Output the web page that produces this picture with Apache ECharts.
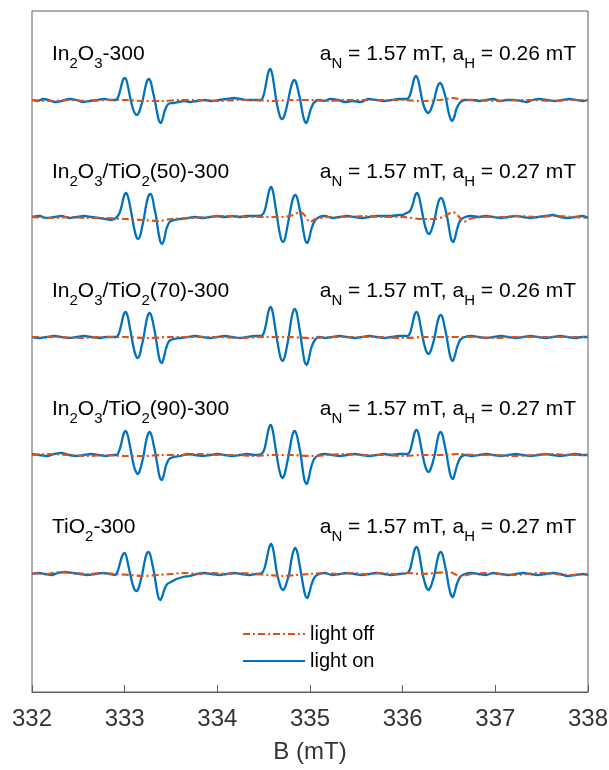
<!DOCTYPE html>
<html>
<head>
<meta charset="utf-8">
<script src="https://cdn.jsdelivr.net/npm/echarts@6/dist/echarts.min.js"></script>
<style>
  html, body { margin: 0; padding: 0; background: #fff; }
  #chart { width: 609px; height: 770px; }
</style>
</head>
<body>
<div id="chart"></div>
<script>
// EPR spectra (DMPO spin adducts) of the five catalysts, light off vs light on.
// Each spectrum is a list of [B (mT), signal (a.u.)] pairs relative to its own baseline.

const fieldTicks = [332, 333, 334, 335, 336, 337, 338];

const sampleLabels = [
  '{n|In}{s|2}{n|O}{s|3}{n|-300}',
  '{n|In}{s|2}{n|O}{s|3}{n|/TiO}{s|2}{n|(50)-300}',
  '{n|In}{s|2}{n|O}{s|3}{n|/TiO}{s|2}{n|(70)-300}',
  '{n|In}{s|2}{n|O}{s|3}{n|/TiO}{s|2}{n|(90)-300}',
  '{n|TiO}{s|2}{n|-300}'
];

const couplingLabels = [
  '{n|a}{s|N}{n| = 1.57 mT, a}{s|H}{n| = 0.26 mT}',
  '{n|a}{s|N}{n| = 1.57 mT, a}{s|H}{n| = 0.27 mT}',
  '{n|a}{s|N}{n| = 1.57 mT, a}{s|H}{n| = 0.26 mT}',
  '{n|a}{s|N}{n| = 1.57 mT, a}{s|H}{n| = 0.27 mT}',
  '{n|a}{s|N}{n| = 1.57 mT, a}{s|H}{n| = 0.27 mT}'
];

// vertical offset of each spectrum in the stack (top to bottom)
const stackOffsets = [592, 475, 355, 237, 118];

// ---- In2O3-300 ----
const onIn2O3 = [
  [332.00, 0], [332.06, -1], [332.12, 1], [332.18, 0], [332.25, -2], [332.32, -1], [332.40, 1],
  [332.48, 0], [332.55, -2], [332.62, -1], [332.70, 0], [332.78, 1], [332.85, 0],
  [332.90, 0], [332.93, 3], [332.955, 11], [332.978, 19], [333.00, 22], [333.022, 19], [333.043, 10],
  [333.065, 0], [333.087, -8], [333.108, -13], [333.13, -15], [333.152, -13], [333.173, -7], [333.195, 0],
  [333.217, 10], [333.238, 18], [333.26, 21], [333.282, 18], [333.303, 9], [333.325, 0], [333.347, -11],
  [333.368, -20], [333.39, -23], [333.412, -18], [333.435, -10], [333.47, -4], [333.52, -3], [333.58, -2],
  [333.64, -1], [333.70, -2], [333.78, -1], [333.86, 0], [333.94, -1], [334.02, 0], [334.10, 1],
  [334.18, 2], [334.25, 1], [334.32, 0], [334.40, 0], [334.47, 0],
  [334.50, 5], [334.525, 16], [334.548, 27], [334.57, 31], [334.592, 26], [334.613, 14], [334.635, 0],
  [334.657, -10], [334.678, -17], [334.70, -19], [334.722, -16], [334.743, -9], [334.765, 0], [334.787, 10],
  [334.808, 17], [334.83, 20], [334.852, 17], [334.873, 9], [334.895, 0], [334.917, -12], [334.938, -20],
  [334.96, -23], [334.982, -18], [335.005, -10], [335.04, -3], [335.09, 0],
  [335.15, -1], [335.22, 1], [335.30, 0], [335.38, -2], [335.46, -1], [335.55, -2], [335.63, 1],
  [335.72, 0], [335.80, -1], [335.88, 0], [335.96, 1], [336.045, 1],
  [336.075, 4], [336.10, 12], [336.123, 21], [336.145, 24], [336.167, 20], [336.188, 11], [336.21, 0],
  [336.232, -7], [336.253, -11], [336.275, -13], [336.297, -11], [336.318, -6], [336.34, 0], [336.362, 9],
  [336.383, 15], [336.405, 17], [336.427, 14], [336.448, 8], [336.47, 0], [336.492, -11], [336.513, -18],
  [336.535, -21], [336.557, -17], [336.58, -9], [336.615, -3], [336.665, 0],
  [336.75, 0], [336.83, -1], [336.90, 0], [336.98, 1], [337.05, -1], [337.12, 0], [337.20, 0],
  [337.28, -1], [337.34, -2], [337.40, 0], [337.48, 1], [337.56, 0], [337.64, -1], [337.72, 0],
  [337.80, 1], [337.88, 0], [337.95, -1], [338.00, 0]
];
const offIn2O3 = [
  [332.00, 0], [332.20, -1], [332.40, 0], [332.60, -1], [332.80, 0], [333.00, 0], [333.20, -1],
  [333.40, -1], [333.60, 0], [333.80, 0], [334.00, -1], [334.20, 0], [334.40, 0], [334.60, -1],
  [334.80, 0], [335.00, 0], [335.20, -1], [335.40, 0], [335.60, 0], [335.80, 0], [336.00, 0],
  [336.20, -1], [336.40, 0], [336.55, 2], [336.65, 0], [336.80, 0], [337.00, -1], [337.20, 0],
  [337.40, 0], [337.60, -1], [337.80, 0], [338.00, 0]
];

// ---- In2O3/TiO2(50)-300 ----
const onTi50 = [
  [332.00, 0], [332.08, 1], [332.16, -1], [332.24, 0], [332.32, 1], [332.40, -1], [332.48, 0],
  [332.56, 1], [332.64, 0], [332.72, -1], [332.80, -2], [332.85, -3], [332.89, -2],
  [332.915, 0], [332.945, 4], [332.97, 12], [332.993, 21], [333.015, 24], [333.037, 20], [333.058, 11],
  [333.08, 0], [333.102, -11], [333.123, -19], [333.145, -22], [333.167, -19], [333.188, -10], [333.21, 0],
  [333.232, 12], [333.253, 20], [333.275, 23], [333.297, 20], [333.318, 10], [333.34, 0], [333.362, -14],
  [333.383, -24], [333.405, -27], [333.427, -22], [333.45, -12], [333.485, -5], [333.535, -3], [333.60, -2],
  [333.68, -1], [333.76, 0], [333.84, -1], [333.92, 0], [334.00, 1], [334.08, 0], [334.16, 1],
  [334.24, 0], [334.32, 1], [334.40, 1], [334.48, 2],
  [334.51, 6], [334.535, 16], [334.558, 26], [334.58, 30], [334.602, 25], [334.623, 13], [334.645, 0],
  [334.667, -13], [334.688, -22], [334.71, -25], [334.732, -21], [334.753, -11], [334.775, 0], [334.797, 11],
  [334.818, 19], [334.84, 22], [334.862, 19], [334.883, 10], [334.905, 0], [334.927, -13], [334.948, -23],
  [334.97, -26], [334.992, -21], [335.015, -12], [335.05, -4], [335.10, 0],
  [335.16, 1], [335.24, -1], [335.32, 0], [335.40, 1], [335.48, 0], [335.56, -1], [335.64, 0],
  [335.72, 1], [335.80, 1], [335.88, 1], [335.96, 2], [336.00, 2], [336.04, 4],
  [336.08, 6], [336.11, 13], [336.133, 21], [336.155, 24], [336.177, 20], [336.198, 11], [336.22, 0],
  [336.242, -9], [336.263, -15], [336.285, -17], [336.307, -14], [336.328, -8], [336.35, 0], [336.372, 10],
  [336.393, 17], [336.415, 19], [336.437, 16], [336.458, 9], [336.48, 0], [336.502, -12], [336.523, -22],
  [336.545, -25], [336.567, -20], [336.59, -11], [336.625, -3], [336.675, 0],
  [336.74, 1], [336.82, 0], [336.90, 1], [336.98, 0], [337.06, -1], [337.14, 0], [337.22, 1],
  [337.30, 0], [337.38, -1], [337.46, 0], [337.54, 1], [337.62, 2], [337.70, 0], [337.78, -1],
  [337.86, 0], [337.94, 1], [338.00, -1]
];
const offTi50 = [
  [332.00, 0], [332.20, -1], [332.40, 0], [332.60, -1], [332.80, -1], [333.00, -2], [333.20, -3],
  [333.36, -4], [333.50, -2], [333.70, -1], [333.90, 0], [334.10, 1], [334.30, 0], [334.50, 0],
  [334.70, 0], [334.82, 2], [334.89, 5], [334.94, 2], [335.00, -5], [335.06, -2], [335.20, 0],
  [335.40, 0], [335.60, 1], [335.80, 0], [336.00, 0], [336.20, -2], [336.35, -2], [336.46, 1],
  [336.54, 5], [336.60, 1], [336.66, -5], [336.72, -2], [336.85, 0], [337.05, 0], [337.25, 1],
  [337.45, 0], [337.65, 1], [337.85, 0], [338.00, -1]
];

// ---- In2O3/TiO2(70)-300 ----
const onTi70 = [
  [332.00, 0], [332.08, -1], [332.16, 0], [332.24, 1], [332.32, 0], [332.40, -1], [332.48, 0],
  [332.56, 1], [332.64, 0], [332.72, -1], [332.80, 0], [332.87, 0],
  [332.91, 0], [332.94, 4], [332.965, 13], [332.988, 22], [333.01, 25], [333.032, 21], [333.053, 11],
  [333.075, 0], [333.097, -11], [333.118, -18], [333.14, -21], [333.162, -18], [333.183, -9], [333.205, 0],
  [333.227, 12], [333.248, 21], [333.27, 24], [333.292, 20], [333.313, 11], [333.335, 0], [333.357, -13],
  [333.378, -23], [333.40, -26], [333.422, -21], [333.445, -12], [333.48, -4], [333.53, -2], [333.60, -1],
  [333.68, 0], [333.76, 1], [333.84, 0], [333.92, -1], [334.00, 0], [334.08, 1], [334.16, 0],
  [334.24, -1], [334.32, 0], [334.40, 1], [334.475, 1],
  [334.505, 5], [334.53, 15], [334.553, 26], [334.575, 30], [334.597, 25], [334.618, 13], [334.64, 0],
  [334.662, -12], [334.683, -21], [334.705, -24], [334.727, -20], [334.748, -11], [334.77, 0], [334.792, 14],
  [334.813, 24], [334.835, 28], [334.857, 24], [334.878, 13], [334.90, 0], [334.922, -14], [334.943, -25],
  [334.965, -28], [334.987, -22], [335.01, -12], [335.045, -4], [335.095, 0],
  [335.16, -1], [335.24, 0], [335.32, 1], [335.40, 0], [335.48, -1], [335.56, 0], [335.64, 1],
  [335.72, 0], [335.80, -1], [335.88, 0], [335.96, 1], [336.05, 1],
  [336.08, 4], [336.105, 13], [336.128, 22], [336.15, 25], [336.172, 21], [336.193, 11], [336.215, 0],
  [336.237, -9], [336.258, -15], [336.28, -17], [336.302, -14], [336.323, -8], [336.345, 0], [336.367, 11],
  [336.388, 19], [336.41, 22], [336.432, 19], [336.453, 10], [336.475, 0], [336.497, -12], [336.518, -21],
  [336.54, -24], [336.562, -19], [336.585, -11], [336.62, -3], [336.67, 0],
  [336.74, 1], [336.82, 0], [336.90, -1], [336.98, 0], [337.06, 1], [337.14, 0], [337.22, -1],
  [337.30, 0], [337.38, 1], [337.46, 0], [337.54, -1], [337.62, 0], [337.70, 1], [337.78, 0],
  [337.86, -1], [337.94, 0], [338.00, 0]
];
const offTi70 = [
  [332.00, 0], [332.25, 0], [332.50, -1], [332.75, 0], [333.00, 0], [333.25, -1], [333.50, 0],
  [333.75, 0], [334.00, 0], [334.25, -1], [334.50, 0], [334.75, 0], [335.00, -1], [335.25, 0],
  [335.50, 0], [335.75, 0], [336.00, -1], [336.25, 0], [336.50, 0], [336.75, 0], [337.00, -1],
  [337.25, 0], [337.50, 0], [337.75, 0], [338.00, 0]
];

// ---- In2O3/TiO2(90)-300 ----
const onTi90 = [
  [332.00, 1], [332.08, 0], [332.16, -1], [332.24, 1], [332.32, 2], [332.40, 0], [332.48, -1],
  [332.56, 0], [332.64, 1], [332.72, 0], [332.80, -1], [332.87, 0],
  [332.91, 0], [332.94, 4], [332.965, 12], [332.988, 21], [333.01, 24], [333.032, 20], [333.053, 11],
  [333.075, 0], [333.097, -10], [333.118, -16], [333.14, -19], [333.162, -16], [333.183, -9], [333.205, 0],
  [333.227, 12], [333.248, 20], [333.27, 23], [333.292, 19], [333.313, 10], [333.335, 0], [333.357, -12],
  [333.378, -22], [333.40, -25], [333.422, -20], [333.445, -11], [333.48, -4], [333.53, -2], [333.60, -1],
  [333.68, 1], [333.76, 0], [333.84, -1], [333.92, 0], [334.00, 1], [334.08, 0], [334.16, -1],
  [334.24, 0], [334.32, 1], [334.40, 0], [334.475, 1],
  [334.505, 5], [334.53, 15], [334.553, 26], [334.575, 30], [334.597, 25], [334.618, 13], [334.64, 0],
  [334.662, -12], [334.683, -20], [334.705, -23], [334.727, -19], [334.748, -10], [334.77, 0], [334.792, 12],
  [334.813, 21], [334.835, 24], [334.857, 20], [334.878, 11], [334.90, 0], [334.922, -15], [334.943, -26],
  [334.965, -29], [334.987, -23], [335.01, -13], [335.045, -4], [335.095, 0],
  [335.16, 1], [335.24, 0], [335.32, -1], [335.40, 0], [335.48, 1], [335.56, 0], [335.64, -1],
  [335.72, 0], [335.80, 1], [335.88, 0], [335.96, 1], [336.05, 1],
  [336.08, 4], [336.105, 13], [336.128, 22], [336.15, 25], [336.172, 21], [336.193, 11], [336.215, 0],
  [336.237, -9], [336.258, -15], [336.28, -17], [336.302, -14], [336.323, -8], [336.345, 0], [336.367, 11],
  [336.388, 20], [336.41, 23], [336.432, 19], [336.453, 10], [336.475, 0], [336.497, -12], [336.518, -21],
  [336.54, -24], [336.562, -19], [336.585, -11], [336.62, -3], [336.67, 0],
  [336.74, -1], [336.82, 0], [336.90, 1], [336.98, 0], [337.06, -1], [337.14, 0], [337.22, 1],
  [337.30, 0], [337.38, -1], [337.46, 0], [337.54, 1], [337.62, 0], [337.70, -1], [337.78, 0],
  [337.86, 1], [337.94, 0], [338.00, 0]
];
const offTi90 = [
  [332.00, 0], [332.20, 1], [332.40, 0], [332.60, -1], [332.80, 0], [333.00, -1], [333.20, -1],
  [333.40, 0], [333.60, 0], [333.80, 1], [334.00, 0], [334.20, 0], [334.40, -1], [334.60, 0],
  [334.80, 0], [335.00, -1], [335.20, 0], [335.40, 1], [335.60, 0], [335.80, 0], [336.00, -1],
  [336.20, 0], [336.40, 0], [336.60, 1], [336.80, 0], [337.00, 0], [337.20, -1], [337.40, 0],
  [337.60, 1], [337.80, 0], [338.00, 0]
];

// ---- TiO2-300 ----
const onTiO2 = [
  [332.00, 0], [332.07, 1], [332.14, 0], [332.21, -1], [332.28, 1], [332.36, 2], [332.44, 1],
  [332.52, 0], [332.60, -1], [332.68, 0], [332.76, 1], [332.84, 0], [332.895, -1],
  [332.925, 3], [332.95, 11], [332.973, 18], [332.995, 21], [333.017, 18], [333.038, 9], [333.06, 0],
  [333.082, -9], [333.103, -15], [333.125, -17], [333.147, -15], [333.168, -8], [333.19, 0], [333.212, 11],
  [333.233, 19], [333.255, 22], [333.277, 19], [333.298, 10], [333.32, 0], [333.342, -13], [333.363, -23],
  [333.385, -26], [333.407, -22], [333.43, -15], [333.46, -10], [333.50, -8], [333.56, -5], [333.63, -3],
  [333.70, -2], [333.78, 0], [333.86, 1], [333.94, 0], [334.02, -1], [334.10, 0], [334.18, 1],
  [334.26, 0], [334.34, -1], [334.42, 0], [334.48, 1],
  [334.51, 6], [334.535, 16], [334.558, 26], [334.58, 30], [334.602, 25], [334.623, 13], [334.645, 0],
  [334.667, -8], [334.688, -14], [334.71, -16], [334.732, -13], [334.753, -7], [334.775, 0], [334.797, 13],
  [334.818, 22], [334.84, 26], [334.862, 22], [334.883, 12], [334.905, 0], [334.927, -12], [334.948, -21],
  [334.97, -24], [334.992, -19], [335.015, -11], [335.05, -3], [335.10, 0],
  [335.16, 1], [335.24, -1], [335.32, 0], [335.40, 1], [335.48, 0], [335.56, -1], [335.64, 0],
  [335.72, 1], [335.80, 0], [335.88, -1], [335.96, 0], [336.05, 1],
  [336.08, 5], [336.105, 15], [336.128, 24], [336.15, 27], [336.172, 23], [336.193, 12], [336.215, 0],
  [336.237, -8], [336.258, -14], [336.28, -16], [336.302, -13], [336.323, -7], [336.345, 0], [336.367, 11],
  [336.388, 19], [336.41, 22], [336.432, 19], [336.453, 10], [336.475, 0], [336.497, -12], [336.518, -20],
  [336.54, -23], [336.562, -18], [336.585, -10], [336.62, -3], [336.67, 0],
  [336.74, 1], [336.82, 0], [336.90, -1], [336.98, 1], [337.06, 0], [337.14, -1], [337.22, 0],
  [337.30, 1], [337.38, 0], [337.46, -1], [337.54, 0], [337.62, 1], [337.70, 0], [337.78, -2],
  [337.86, -1], [337.94, 0], [338.00, -1]
];
const offTiO2 = [
  [332.00, 1], [332.15, 0], [332.30, 2], [332.45, 1], [332.60, 0], [332.75, 1], [332.90, 0],
  [333.05, -1], [333.20, -2], [333.35, -1], [333.50, 0], [333.65, 1], [333.80, 0], [333.95, 1],
  [334.10, 0], [334.25, 1], [334.40, 0], [334.55, -1], [334.70, -2], [334.85, -1], [335.00, 0],
  [335.15, 1], [335.30, 0], [335.45, 1], [335.60, 0], [335.75, 1], [335.90, 0], [336.05, 1],
  [336.20, 0], [336.35, 1], [336.50, 2], [336.62, -2], [336.75, 0], [336.90, 1], [337.05, 0],
  [337.20, -1], [337.35, 0], [337.50, 1], [337.65, 0], [337.80, -1], [338.00, 0]
];

const lightOnSpectra = [onIn2O3, onTi50, onTi70, onTi90, onTiO2];
const lightOffSpectra = [offIn2O3, offTi50, offTi70, offTi90, offTiO2];

const FONT = '"Liberation Sans", Arial, Helvetica, sans-serif';
const BLUE = '#0072BD';
const ORANGE = '#D95319';
const AXIS_COLOR = '#5f5f5f';

const shifted = (pts, off) => pts.map(p => [p[0], p[1] + off]);

const series = [];
lightOnSpectra.forEach((pts, i) => {
  series.push({
    name: 'light on', type: 'line', data: shifted(pts, stackOffsets[i]),
    symbol: 'none', smooth: 0.3, z: 2,
    lineStyle: { color: BLUE, width: 2.3 }, itemStyle: { color: BLUE }
  });
});
lightOffSpectra.forEach((pts, i) => {
  series.push({
    name: 'light off', type: 'line', data: shifted(pts, stackOffsets[i]),
    symbol: 'none', smooth: 0.3, z: 3,
    lineStyle: { color: ORANGE, width: 2.2, type: [7, 3, 2, 3] }, itemStyle: { color: ORANGE }
  });
});

const richText = {
  n: { fontSize: 21, fontFamily: FONT, lineHeight: 24, verticalAlign: 'top', fill: '#000' },
  s: { fontSize: 15, fontFamily: FONT, lineHeight: 16, verticalAlign: 'top', padding: [12, 0, 0, 0], fill: '#000' }
};

const labelTops = [44, 162, 281, 399, 517];
const graphics = [];
sampleLabels.forEach((t, i) => {
  graphics.push({
    type: 'text', x: 52, y: labelTops[i], z: 10,
    style: { text: t, rich: richText, align: 'left', verticalAlign: 'top', fill: '#000' }
  });
});
couplingLabels.forEach((t, i) => {
  graphics.push({
    type: 'text', x: 576, y: labelTops[i], z: 10,
    style: { text: t, rich: richText, align: 'right', verticalAlign: 'top', fill: '#000' }
  });
});

const chart = echarts.init(document.getElementById('chart'), null, { renderer: 'canvas' });
chart.setOption({
  animation: false,
  backgroundColor: '#fff',
  grid: {
    left: 32, right: 21, top: 11, bottom: 78,
    show: true, borderColor: AXIS_COLOR, borderWidth: 1,
    outerBoundsMode: 'none'
  },
  legend: {
    data: ['light off', 'light on'],
    orient: 'vertical',
    left: 237, top: 619,
    itemWidth: 62, itemHeight: 14, itemGap: 7,
    itemStyle: { opacity: 0 },
    textStyle: { fontSize: 20, color: '#000', fontFamily: FONT }
  },
  xAxis: {
    type: 'value', min: fieldTicks[0], max: fieldTicks[fieldTicks.length - 1], interval: 1,
    name: 'B (mT)', nameLocation: 'middle', nameGap: 48,
    nameTextStyle: { fontSize: 24, color: '#333', fontFamily: FONT },
    axisLine: { show: true, lineStyle: { color: AXIS_COLOR, width: 1 } },
    axisTick: { show: true, inside: true, length: 7, lineStyle: { color: AXIS_COLOR } },
    axisLabel: { fontSize: 24, color: '#333', fontFamily: FONT, margin: 15 },
    splitLine: { show: false }
  },
  yAxis: {
    type: 'value', min: 0, max: 681, show: false
  },
  graphic: graphics,
  series: series
});
</script>
</body>
</html>
